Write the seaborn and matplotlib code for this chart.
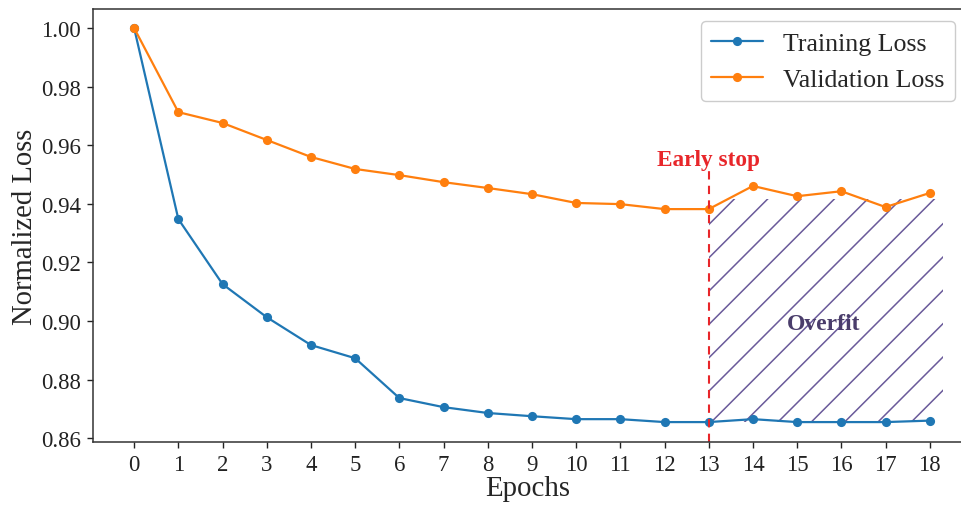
import numpy as np
import pandas as pd
import matplotlib
matplotlib.use("Agg")
import matplotlib.pyplot as plt
import seaborn as sns

# valores
epochs = list(range(19))
train_loss = [1.000, 0.9348, 0.9126, 0.9013, 0.8918, 0.8873, 0.8737, 0.8706, 0.8686, 0.8675,
              0.8665, 0.8665, 0.8655, 0.8655, 0.8665, 0.8655, 0.8655, 0.8655, 0.8660]
val_loss = [1.000, 0.9713, 0.9676, 0.9618, 0.9560, 0.9519, 0.9498, 0.9474, 0.9454, 0.9433,
            0.9403, 0.9399, 0.9382, 0.9382, 0.9461, 0.9426, 0.9443, 0.9389, 0.9437]
early_stop = 13
overfit_x = [13, 18.3]
overfit_top = 0.9415

dados = pd.DataFrame({'Epochs': epochs, 'Training Loss': train_loss, 'Validation Loss': val_loss})

sns.set_style('ticks')
plt.rcParams['font.family'] = ['Liberation Serif', 'DejaVu Serif']
plt.rcParams['hatch.linewidth'] = 0.55

fig = plt.figure(figsize=(4.81, 2.53), dpi=200)
ax = fig.add_axes([0.0967, 0.1245, 0.9033, 0.8557])

sns.lineplot(data=dados, x='Epochs', y='Training Loss', marker='o', color='#1f77b4',
             linewidth=0.8, markersize=3.3, markeredgewidth=0, label='Training Loss', ax=ax)
sns.lineplot(data=dados, x='Epochs', y='Validation Loss', marker='o', color='#ff7f0e',
             linewidth=0.8, markersize=3.3, markeredgewidth=0, label='Validation Loss', ax=ax)

# regiao de overfit (hachurada)
ax.fill_between(overfit_x, min(train_loss), overfit_top, facecolor='none',
                edgecolor='#6a5a9a', hatch='//', linewidth=0)
ax.text(15.6, 0.899, 'Overfit', color='#4a3d6b', fontsize=8.5, fontweight='bold',
        ha='center', va='center')

# early stop
ax.plot([early_stop, early_stop], [0.8587, 0.9512], color='#e8262a', linestyle='--',
        linewidth=0.75, dashes=(4, 3))
ax.text(early_stop, 0.9553, 'Early stop', color='#e8262a', fontsize=8.4, fontweight='bold',
        ha='center', va='center')

ax.set_xlim(-0.93, 18.73)
ax.set_ylim(0.8587, 1.0065)
ax.set_xticks(epochs)
ax.set_yticks(np.arange(0.86, 1.001, 0.02))
ax.set_yticklabels([f'{v:.2f}' for v in np.arange(0.86, 1.001, 0.02)])
ax.set_xlabel('Epochs', fontsize=10.4, labelpad=0)
ax.set_ylabel('Normalized Loss', fontsize=10.3, labelpad=1)
ax.tick_params(labelsize=8.2, length=2.2, width=0.5, colors='#222222', pad=2.2)
for lado in ['left', 'bottom', 'top']:
    ax.spines[lado].set_linewidth(0.55)
    ax.spines[lado].set_color('#333333')
ax.spines['right'].set_visible(False)

ax.legend(loc='upper right', fontsize=9.3, frameon=True, fancybox=True, framealpha=1,
          edgecolor='#cccccc', borderpad=0.4, handlelength=2.0, borderaxespad=0,
          bbox_to_anchor=(0.992, 0.972))
ax.get_legend().get_frame().set_linewidth(0.5)

fig.savefig('out.png', dpi=200)
